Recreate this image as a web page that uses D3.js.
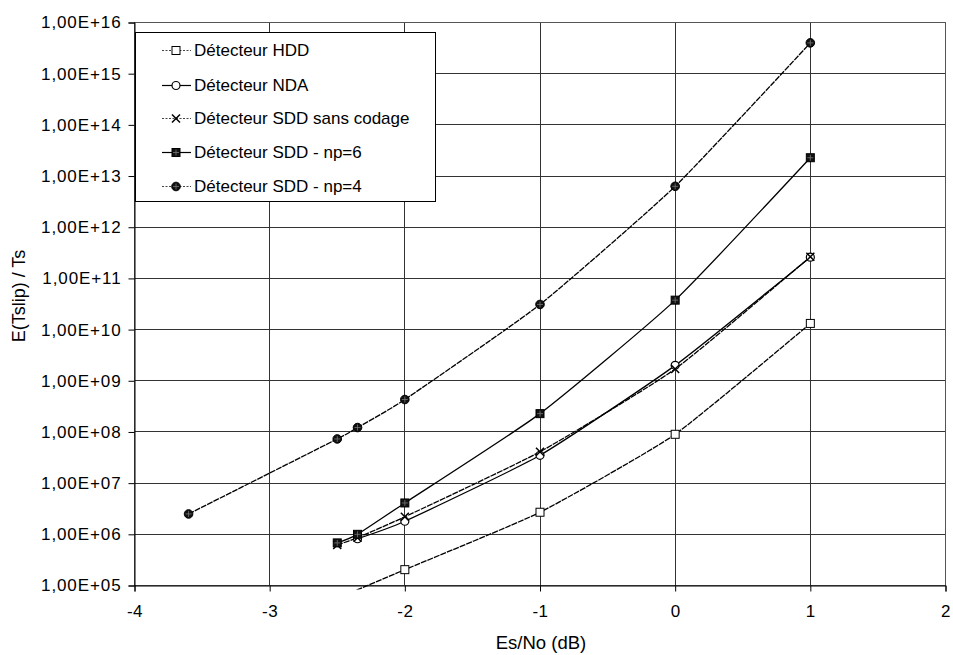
<!DOCTYPE html>
<html><head><meta charset="utf-8">
<script src="https://cdn.jsdelivr.net/npm/d3@7"></script>
<style>
html,body{margin:0;padding:0;background:#fff;}
svg{display:block;font-family:"Liberation Sans",Arial,sans-serif;}
</style></head>
<body>
<svg id="chart" width="953" height="655"></svg>
<script>
// ---- data ----
const xTicks = [-4, -3, -2, -1, 0, 1, 2];
const yTickExps = [5, 6, 7, 8, 9, 10, 11, 12, 13, 14, 15, 16];
const seriesNames = ["Détecteur HDD", "Détecteur NDA", "Détecteur SDD sans codage", "Détecteur SDD - np=6", "Détecteur SDD - np=4"];

const hddX = [-2.5, -2, -1, 0, 1];
const hddY = [5.6e4, 2.04e5, 2.7e6, 9.0e7, 1.32e10];

const ndaX = [-2.35, -2, -1, 0, 1];
const ndaY = [8.2e5, 1.8e6, 3.5e7, 2.0e9, 2.6e11];

const sddX = [-2.5, -2.35, -2, -1, 0, 1];
const sddY = [6.2e5, 8.6e5, 2.2e6, 4.1e7, 1.7e9, 2.65e11];

const np6X = [-2.5, -2.35, -2, -1, 0, 1];
const np6Y = [6.8e5, 1.0e6, 4.1e6, 2.28e8, 3.76e10, 2.28e13];

const np4X = [-3.6, -2.5, -2.35, -2, -1, 0, 1];
const np4Y = [2.5e6, 7.3e7, 1.22e8, 4.3e8, 3.1e10, 6.3e12, 4.0e15];

// ---- layout ----
const L = 134.5, R = 945.5, T = 22.5, B = 585.5;
const svg = d3.select("#chart");
const x = d3.scaleLinear().domain([-4, 2]).range([L, R]);
const y = d3.scaleLog().domain([1e5, 1e16]).range([B, T]);
const snap = v => Math.round(v - 0.5) + 0.5;
const FONT = "'Liberation Sans',Arial,sans-serif";

const series = [
  {name: seriesNames[0], xs: hddX, ys: hddY, marker: "osquare", dash: "6,1"},
  {name: seriesNames[1], xs: ndaX, ys: ndaY, marker: "ocircle", dash: null},
  {name: seriesNames[2], xs: sddX, ys: sddY, marker: "cross", dash: "6,1"},
  {name: seriesNames[3], xs: np6X, ys: np6Y, marker: "fsquare", dash: null},
  {name: seriesNames[4], xs: np4X, ys: np4Y, marker: "fcircle", dash: "6,1"}
];

// gridlines
const grid = svg.append("g");
yTickExps.forEach(e => {
  const yy = snap(y(Math.pow(10, e)));
  grid.append("line").attr("x1", L).attr("x2", R).attr("y1", yy).attr("y2", yy)
    .attr("stroke", "#333").attr("stroke-width", 1);
});
xTicks.forEach(t => {
  const xx = snap(x(t));
  grid.append("line").attr("x1", xx).attr("x2", xx).attr("y1", T).attr("y2", B)
    .attr("stroke", "#333").attr("stroke-width", 1);
});
svg.append("rect").attr("x", L).attr("y", T).attr("width", R - L).attr("height", B - T)
  .attr("fill", "none").attr("stroke", "#555").attr("stroke-width", 1);

// axes
const yAxis = d3.axisLeft(y).tickValues(yTickExps.map(e => Math.pow(10, e)))
  .tickSize(6).tickPadding(7)
  .tickFormat(d => "1,00E+" + String(Math.round(Math.log10(d))).padStart(2, "0"));
const gy = svg.append("g").attr("transform", `translate(${snap(L)},0)`).call(yAxis);
gy.select(".domain").attr("stroke", "#000");
gy.selectAll(".tick line").attr("stroke", "#000");
gy.selectAll(".tick text").attr("font-size", 17).attr("fill", "#000")
  .attr("font-family", FONT).attr("letter-spacing", 0.9);

const xAxis = d3.axisBottom(x).tickValues(xTicks).tickSize(6).tickPadding(13)
  .tickFormat(d => String(d));
const gx = svg.append("g").attr("transform", `translate(0,${snap(B)})`).call(xAxis);
gx.select(".domain").attr("stroke", "#000");
gx.selectAll(".tick line").attr("stroke", "#000");
gx.selectAll(".tick text").attr("font-size", 17).attr("fill", "#000")
  .attr("font-family", FONT).attr("letter-spacing", 0.5);

// axis titles
svg.append("text").attr("x", 541).attr("y", 649).attr("text-anchor", "middle")
  .attr("font-size", 18.5).attr("fill", "#000").attr("font-family", FONT).text("Es/No (dB)");
svg.append("text").attr("transform", "translate(25,296) rotate(-90)").attr("text-anchor", "middle")
  .attr("font-size", 18).attr("fill", "#000").attr("font-family", FONT).text("E(Tslip) / Ts");

// clip
svg.append("defs").append("clipPath").attr("id", "clip")
  .append("rect").attr("x", L).attr("y", T - 6).attr("width", R - L).attr("height", B - T + 10);

const line = d3.line().x(d => x(d[0])).y(d => y(d[1])).curve(d3.curveCardinal.tension(0.5));

function drawMarker(g, type, cx, cy) {
  if (type === "osquare") {
    g.append("rect").attr("x", cx - 4).attr("y", cy - 4).attr("width", 8).attr("height", 8)
      .attr("fill", "#fff").attr("stroke", "#000").attr("stroke-width", 1);
  } else if (type === "ocircle") {
    g.append("circle").attr("cx", cx).attr("cy", cy).attr("r", 4)
      .attr("fill", "#fff").attr("stroke", "#000").attr("stroke-width", 1.2);
  } else if (type === "cross") {
    g.append("path").attr("d", `M${cx-4},${cy-4}L${cx+4},${cy+4}M${cx-4},${cy+4}L${cx+4},${cy-4}`)
      .attr("stroke", "#000").attr("stroke-width", 1.5).attr("fill", "none");
  } else if (type === "fsquare") {
    g.append("rect").attr("x", cx - 4).attr("y", cy - 4).attr("width", 8).attr("height", 8)
      .attr("fill", "#111").attr("stroke", "#000").attr("stroke-width", 1);
    g.append("path").attr("d", `M${cx},${cy-3}V${cy+3}M${cx-3},${cy}H${cx+3}`)
      .attr("stroke", "#777").attr("stroke-width", 0.8);
  } else if (type === "fcircle") {
    g.append("circle").attr("cx", cx).attr("cy", cy).attr("r", 4.3)
      .attr("fill", "#111").attr("stroke", "#000").attr("stroke-width", 1);
    g.append("path").attr("d", `M${cx},${cy-3}V${cy+3}M${cx-3},${cy}H${cx+3}`)
      .attr("stroke", "#777").attr("stroke-width", 0.8);
  }
}

const plot = svg.append("g").attr("clip-path", "url(#clip)");
series.forEach(s => {
  const pts = s.xs.map((v, i) => [v, s.ys[i]]);
  plot.append("path").datum(pts).attr("d", line).attr("fill", "none")
    .attr("stroke", "#000").attr("stroke-width", 1.3)
    .attr("stroke-dasharray", s.dash);
});
series.forEach(s => {
  const g = plot.append("g");
  s.xs.forEach((v, i) => {
    if (s.ys[i] >= 1e5) drawMarker(g, s.marker, x(v), y(s.ys[i]));
  });
});

// legend
const lg = svg.append("g");
lg.append("rect").attr("x", 135.5).attr("y", 32.5).attr("width", 300).attr("height", 169)
  .attr("fill", "#fff").attr("stroke", "#000").attr("stroke-width", 1);
const legY = [50, 85, 118, 152, 186];
series.forEach((s, i) => {
  const yy = legY[i];
  lg.append("line").attr("x1", 162).attr("x2", 191).attr("y1", yy + 0.5).attr("y2", yy + 0.5)
    .attr("stroke", s.dash ? "#444" : "#000").attr("stroke-width", 1.2)
    .attr("stroke-dasharray", s.dash ? "2,1.5" : null);
  drawMarker(lg, s.marker, 176, yy + 0.5);
  lg.append("text").attr("x", 194).attr("y", yy + 6).attr("font-size", 17)
    .attr("fill", "#000").attr("font-family", FONT).text(s.name);
});
</script>
</body></html>
